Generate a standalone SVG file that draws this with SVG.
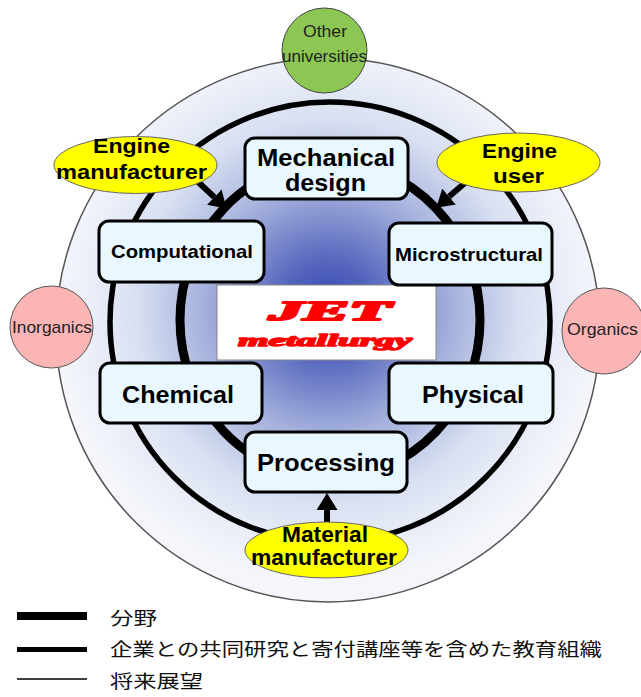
<svg xmlns="http://www.w3.org/2000/svg" width="641" height="697" viewBox="0 0 641 697">
<style>
.lbl{font-family:"Liberation Sans",Arial,sans-serif;font-weight:bold;fill:#000}
.sm{font-family:"Liberation Sans",Arial,sans-serif;fill:#222}
.box{fill:#e8f8fe;stroke:#000;stroke-width:3}
.yel{fill:#ffff00;stroke:#666;stroke-width:1}
.pink{fill:#fcb5b5;stroke:#555;stroke-width:1}
.jp{font-family:"Liberation Sans","Noto Sans CJK JP",sans-serif;font-size:18px;fill:#111}
.arr{stroke:#000;stroke-width:6;fill:none}
.jet{font-family:"Liberation Serif",serif;font-weight:bold;font-style:italic;fill:#ff0000;stroke:#ff0000;stroke-linejoin:round}
</style>
<defs>
<radialGradient id="bg" gradientUnits="userSpaceOnUse" cx="328" cy="310" r="272">
<stop offset="0" stop-color="#3343ac"/>
<stop offset="0.2" stop-color="#5b6bc0"/>
<stop offset="0.45" stop-color="#a3b0dc"/>
<stop offset="0.7" stop-color="#d8dff1"/>
<stop offset="0.85" stop-color="#e7ecf7"/>
<stop offset="1" stop-color="#f4f6fb"/>
</radialGradient>
<marker id="ah" viewBox="0 0 17 21" refX="0" refY="10.5" markerWidth="17" markerHeight="21" markerUnits="userSpaceOnUse" orient="auto">
<path d="M0,0 L17,10.5 L0,21 Z" fill="#000"/>
</marker>
</defs>
<rect width="641" height="697" fill="#fff"/>
<g id="rings">
<circle cx="328" cy="330" r="272" fill="url(#bg)" stroke="#555" stroke-width="1.5"/>
<circle cx="330" cy="322" r="220" fill="none" stroke="#000" stroke-width="5.5"/>
<ellipse cx="330" cy="320" rx="150" ry="158" fill="none" stroke="#000" stroke-width="9"/>
</g>
<g id="other-universities">
<ellipse cx="324.5" cy="50.5" rx="42.5" ry="42.5" fill="#8cc653" stroke="#444" stroke-width="1"/>
<text class="sm" x="303" y="37" font-size="17" textLength="44" lengthAdjust="spacingAndGlyphs">Other</text>
<text class="sm" x="282" y="62" font-size="17" textLength="85" lengthAdjust="spacingAndGlyphs">universities</text>
</g>
<g id="inorganics">
<ellipse class="pink" cx="51.5" cy="327" rx="41.5" ry="41"/>
<text class="sm" x="12" y="333" font-size="17" textLength="80" lengthAdjust="spacingAndGlyphs">Inorganics</text>
</g>
<g id="organics">
<ellipse class="pink" cx="604" cy="331" rx="42" ry="43"/>
<text class="sm" x="567" y="335" font-size="17" textLength="71" lengthAdjust="spacingAndGlyphs">Organics</text>
</g>
<g id="jet">
<rect x="217" y="285" width="219" height="75" fill="#fff" stroke="#888" stroke-width="1"/>
<text class="jet" x="269" y="320" font-size="28" stroke-width="2.2" textLength="122" lengthAdjust="spacingAndGlyphs">JET</text>
<text class="jet" x="238" y="346" font-size="17" stroke-width="1.4" textLength="174" lengthAdjust="spacingAndGlyphs">metallurgy</text>
</g>
<g id="mechanical-design">
<rect class="box" x="245" y="138" width="163" height="61" rx="10"/>
<text class="lbl" x="257" y="166" font-size="23" textLength="138" lengthAdjust="spacingAndGlyphs">Mechanical</text>
<text class="lbl" x="285" y="191" font-size="23" textLength="81" lengthAdjust="spacingAndGlyphs">design</text>
</g>
<g id="computational">
<rect class="box" x="99" y="221" width="165" height="61" rx="10"/>
<text class="lbl" x="111" y="258" font-size="19" textLength="142" lengthAdjust="spacingAndGlyphs">Computational</text>
</g>
<g id="microstructural">
<rect class="box" x="389" y="223" width="163" height="62" rx="10"/>
<text class="lbl" x="395" y="261" font-size="19" textLength="148" lengthAdjust="spacingAndGlyphs">Microstructural</text>
</g>
<g id="chemical">
<rect class="box" x="100" y="363" width="162" height="60" rx="10"/>
<text class="lbl" x="122" y="403" font-size="23" textLength="112" lengthAdjust="spacingAndGlyphs">Chemical</text>
</g>
<g id="physical">
<rect class="box" x="389" y="363" width="164" height="60" rx="10"/>
<text class="lbl" x="422" y="403" font-size="23" textLength="102" lengthAdjust="spacingAndGlyphs">Physical</text>
</g>
<g id="processing">
<rect class="box" x="245" y="432" width="162" height="60" rx="10"/>
<text class="lbl" x="257" y="471" font-size="23" textLength="138" lengthAdjust="spacingAndGlyphs">Processing</text>
</g>
<g id="connectors">
<line class="arr" x1="196" y1="180" x2="214.3" y2="197.1" marker-end="url(#ah)"/>
<line class="arr" x1="466" y1="182" x2="449.1" y2="196.6" marker-end="url(#ah)"/>
<line class="arr" x1="327" y1="524" x2="327" y2="510" marker-end="url(#ah)"/>
</g>
<g id="engine-manufacturer">
<ellipse class="yel" cx="135.5" cy="165" rx="81.5" ry="28.5"/>
<text class="lbl" x="93" y="153" font-size="21" textLength="77" lengthAdjust="spacingAndGlyphs">Engine</text>
<text class="lbl" x="56" y="179" font-size="21" textLength="151" lengthAdjust="spacingAndGlyphs">manufacturer</text>
</g>
<g id="engine-user">
<ellipse class="yel" cx="518.5" cy="162.5" rx="81.5" ry="29.5"/>
<text class="lbl" x="482" y="158" font-size="21" textLength="75" lengthAdjust="spacingAndGlyphs">Engine</text>
<text class="lbl" x="493" y="183" font-size="21" textLength="51" lengthAdjust="spacingAndGlyphs">user</text>
</g>
<g id="material-manufacturer">
<ellipse class="yel" cx="326.5" cy="550" rx="81.5" ry="28"/>
<text class="lbl" x="282" y="542" font-size="22" textLength="86" lengthAdjust="spacingAndGlyphs">Material</text>
<text class="lbl" x="251" y="565" font-size="22" textLength="146" lengthAdjust="spacingAndGlyphs">manufacturer</text>
</g>
<g id="legend">
<rect x="17" y="612" width="70" height="8" fill="#000"/>
<text class="jp" x="110" y="625" textLength="47" lengthAdjust="spacingAndGlyphs">分野</text>
<rect x="17" y="647" width="70" height="5" fill="#000"/>
<text class="jp" x="110" y="656" textLength="492" lengthAdjust="spacingAndGlyphs">企業との共同研究と寄付講座等を含めた教育組織</text>
<line x1="17" y1="679" x2="87" y2="679" stroke="#000" stroke-width="1.3"/>
<text class="jp" x="110" y="688" textLength="93" lengthAdjust="spacingAndGlyphs">将来展望</text>
</g>
</svg>
